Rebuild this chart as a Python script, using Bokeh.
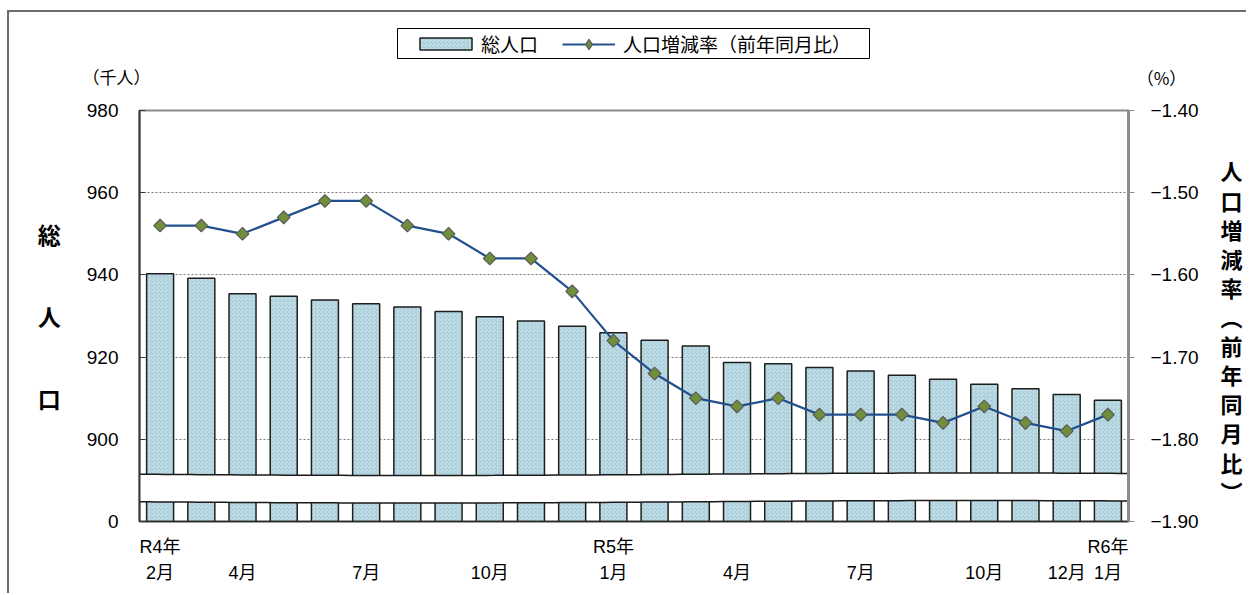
import numpy as np
from bokeh.plotting import figure
from bokeh.layouts import column
from bokeh.models import (LinearAxis, Range1d, FixedTicker, Legend, LegendItem, Plot)
from bokeh.core.properties import value
from bokeh.embed import file_html
from bokeh.resources import INLINE

# ---------------- data ----------------
months = ["R4年2月", "3月", "4月", "5月", "6月", "7月", "8月", "9月", "10月",
          "11月", "12月", "R5年1月", "2月", "3月", "4月", "5月", "6月", "7月",
          "8月", "9月", "10月", "11月", "12月", "R6年1月"]
population = [940.3, 939.2, 935.4, 934.8, 933.9, 933.0, 932.2, 931.1, 929.8,
              928.8, 927.5, 925.9, 924.1, 922.7, 918.7, 918.4, 917.5, 916.6,
              915.6, 914.6, 913.4, 912.3, 910.9, 909.5]
rate = [-1.54, -1.54, -1.55, -1.53, -1.51, -1.51, -1.54, -1.55, -1.58, -1.58,
        -1.62, -1.68, -1.72, -1.75, -1.76, -1.75, -1.77, -1.77, -1.77, -1.78,
        -1.76, -1.78, -1.79, -1.77]
tick_index = [0, 2, 5, 8, 11, 14, 17, 20, 22, 23]
tick_labels = ["R4年\n2月", " \n4月", " \n7月", " \n10月", "R5年\n1月",
               " \n4月", " \n7月", " \n10月", " \n12月", "R6年\n1月"]
left_ticks = [880, 900, 920, 940, 960, 980]
left_tick_labels = ["0", "900", "920", "940", "960", "980"]
right_ticks = [-1.90, -1.80, -1.70, -1.60, -1.50, -1.40]
right_tick_labels = ["−1.90", "−1.80", "−1.70", "−1.60", "−1.50", "−1.40"]
left_title = "総\n人\n口"
right_title = " \n人\n口\n増\n減\n率\n︵\n前\n年\n同\n月\n比\n︶"
legend_labels = ["総人口", "人口増減率（前年同月比）"]
unit_left = "（千人）"
unit_right = "（%）"

LATIN = "Liberation Sans, Noto Sans CJK JP"
CJK = "Noto Sans CJK JP"

BAR_STYLE = dict(fill_color="#e6f7fa", line_color="#1e1e1e", line_width=1.5,
                 hatch_pattern="criss_cross", hatch_color="#a6ccd8",
                 hatch_scale=4, hatch_weight=1.1)
LINE_STYLE = dict(line_color="#22508e", line_width=2.2)
PT_STYLE = dict(marker="square", angle=np.pi / 4, size=9, fill_color="#6f8f3a",
                line_color="#5a5a5a", line_width=1.2)

n = len(months)
xs = np.arange(n) + 0.5

OX, OY = 9, 12           # page position of the layout content
FL, FT, FW, FH = 139, 110, 989, 411   # frame position on the page
BL, BR, BB, BT = FL - OX, 118, 72, 12
W = BL + FW + BR
HH = FT - BT - OY        # header height

can_unalign = "frame_align" in Plot.properties()

# ---------------- main figure ----------------
p = figure(frame_width=FW, frame_height=FH, title=None,
           min_border_left=BL, min_border_right=BR,
           min_border_top=BT, min_border_bottom=BB,
           x_range=Range1d(0, n), y_range=Range1d(left_ticks[0], left_ticks[-1]),
           output_backend="svg", toolbar_location=None)
p.background_fill_color = "white"
p.border_fill_color = "white"
p.outline_line_color = "#8a8a8a"
p.outline_line_width = 2
p.extra_y_ranges = {"rate": Range1d(right_ticks[0], right_ticks[-1])}
if can_unalign:
    p.frame_align = False

p.xgrid.visible = False
p.ygrid.ticker = FixedTicker(ticks=left_ticks[1:-1])
p.ygrid.grid_line_color = "#7a7a7a"
p.ygrid.grid_line_dash = "2 2"
p.ygrid.grid_line_width = 1

has_orient = "axis_label_orientation" in LinearAxis.properties()

ya = p.yaxis[0]
ya.ticker = FixedTicker(ticks=left_ticks)
ya.major_label_overrides = {t: s for t, s in zip(left_ticks, left_tick_labels)}
ya.major_tick_in = 6
ya.major_tick_out = 0
ya.minor_tick_line_color = None
ya.axis_line_color = "#3a3a3a"
ya.axis_line_width = 2
ya.major_tick_line_color = "#3a3a3a"
ya.major_label_standoff = 21
ya.major_label_text_font = LATIN
ya.major_label_text_font_size = "19px"
ya.major_label_text_color = "black"
ya.axis_label = left_title
ya.axis_label_text_font = CJK
ya.axis_label_text_font_size = "23px"
ya.axis_label_text_font_style = "bold"
ya.axis_label_text_color = "black"
ya.axis_label_text_line_height = 2.42
ya.axis_label_standoff = 23
if has_orient:
    ya.axis_label_orientation = "horizontal"

ra = LinearAxis(y_range_name="rate")
ra.ticker = FixedTicker(ticks=right_ticks)
ra.major_label_overrides = {t: s for t, s in zip(right_ticks, right_tick_labels)}
ra.major_tick_in = 0
ra.major_tick_out = 6
ra.minor_tick_line_color = None
ra.axis_line_color = "#8c8c8c"
ra.axis_line_width = 3
ra.major_tick_line_color = "#8c8c8c"
ra.major_label_standoff = 16
ra.major_label_text_font = LATIN
ra.major_label_text_font_size = "19px"
ra.major_label_text_color = "black"
ra.axis_label = right_title
ra.axis_label_text_font = CJK
ra.axis_label_text_font_size = "22px"
ra.axis_label_text_font_style = "bold"
ra.axis_label_text_color = "black"
ra.axis_label_text_line_height = 0.91
ra.axis_label_standoff = 19
if has_orient:
    ra.axis_label_orientation = "horizontal"
p.add_layout(ra, "right")

xa = p.xaxis[0]
xa.ticker = FixedTicker(ticks=[xs[i] for i in tick_index])
xa.major_label_overrides = {xs[i]: s for i, s in zip(tick_index, tick_labels)}
xa.major_tick_line_color = None
xa.minor_tick_line_color = None
xa.axis_line_color = "#2a2a2a"
xa.axis_line_width = 1.5
xa.major_label_standoff = 9
xa.major_label_text_font = LATIN
xa.major_label_text_font_size = "18px"
xa.major_label_text_line_height = 1.32
xa.major_label_text_color = "black"

r_bar = p.vbar(x=xs, bottom=left_ticks[0], top=population, width=0.655, **BAR_STYLE)

# axis-break band (decoration)
bx = np.linspace(-0.2, n + 0.2, 120)
wave = 0.3 * np.sin(2 * np.pi * bx / 27.0)
band_top = 891.5 - wave
band_bot = 884.8 - wave
p.patch(np.concatenate([bx, bx[::-1]]), np.concatenate([band_top, band_bot[::-1]]),
        fill_color="white", line_color="#1a1a1a", line_width=1.5)

p.line(xs, rate, y_range_name="rate", **LINE_STYLE)
p.scatter(xs, rate, y_range_name="rate", **PT_STYLE)

# ---------------- header (legend + unit labels) ----------------
hdr = figure(width=W, height=HH, title=None, min_border=0,
             x_range=Range1d(OX, OX + W), y_range=Range1d(OY + HH, OY),
             x_axis_location=None, y_axis_location=None,
             output_backend="svg", toolbar_location=None)
hdr.grid.visible = False
hdr.outline_line_color = None
hdr.background_fill_color = "white"
hdr.border_fill_color = "white"
if can_unalign:
    hdr.frame_align = False

# legend frame box (decoration, page pixel coordinates in the header)
hdr.quad(left=[397], right=[869], top=[28], bottom=[58],
         fill_color="white", line_color="black", line_width=1)

# legend sample renderers (kept outside the visible header range)
h_bar = hdr.vbar(x=[-500], bottom=[0], top=[1], width=1, **BAR_STYLE)
h_line = hdr.line([-500, -499], [0, 0], **LINE_STYLE)
h_pt = hdr.scatter([-500], [0], marker="diamond", size=15, fill_color="#6f8f3a",
                   line_color="#5a5a5a", line_width=1.2)

LEG_COMMON = dict(orientation="horizontal", padding=0, margin=0,
                  border_line_color=None, background_fill_alpha=0,
                  label_text_font=CJK, label_text_font_size="19px",
                  label_text_color="black")
leg1 = Legend(items=[LegendItem(label=legend_labels[0], renderers=[h_bar])],
              location=(413 - OX, OY + HH - 57), glyph_width=65, glyph_height=15,
              label_standoff=3, **LEG_COMMON)
leg2 = Legend(items=[LegendItem(label=legend_labels[1], renderers=[h_line, h_pt])],
              location=(562 - OX, OY + HH - 57), glyph_width=53, glyph_height=26,
              label_standoff=8, **LEG_COMMON)
hdr.add_layout(leg1)
hdr.add_layout(leg2)

hdr.text(x=[116], y=[76], text=[unit_left], text_align="center",
         text_baseline="middle", text_font=value(CJK), text_font_size=value("17px"),
         text_color="black")
hdr.text(x=[1161], y=[77], text=[unit_right], text_align="center",
         text_baseline="middle", text_font=value(CJK), text_font_size=value("17px"),
         text_color="black")

layout = column(hdr, p, spacing=0,
                styles={"margin-left": "7px", "margin-top": "10px",
                        "border-top": "2px solid #6e6e6e",
                        "border-left": "2px solid #6e6e6e"})

open("out.html", "w").write(file_html(layout, INLINE))
